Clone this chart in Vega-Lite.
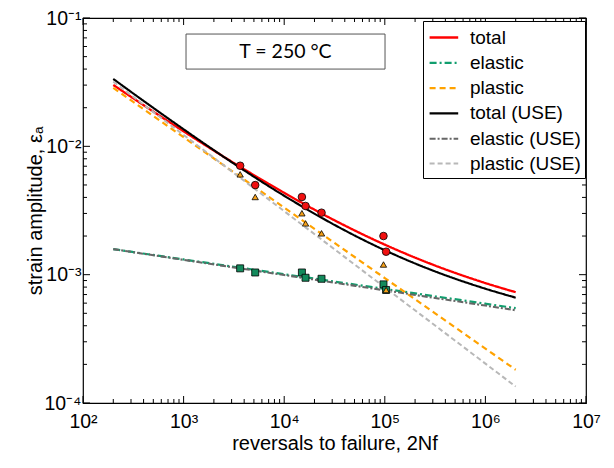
{
  "$schema": "https://vega.github.io/schema/vega-lite/v6.json",
  "width": 503,
  "height": 385,
  "autosize": {"type": "none"},
  "padding": {"left": 83, "top": 18, "right": 28, "bottom": 65},
  "background": "white",
  "config": {
    "view": {"stroke": "black", "strokeWidth": 1.2},
    "font": "Liberation Sans",
    "axis": {
      "labelFont": "Liberation Sans",
      "titleFont": "Liberation Sans",
      "labelFontSize": 19.5,
      "titleFontSize": 20,
      "titleFontWeight": "normal",
      "domain": false,
      "labelColor": "black",
      "titleColor": "black",
      "grid": false
    },
    "legend": {
      "labelFont": "Liberation Sans",
      "labelFontSize": 19,
      "labelColor": "black"
    }
  },
  "datasets": {
    "curves": [
      {"N": 200, "strain": 0.03009, "series": "total"},
      {"N": 316, "strain": 0.02367, "series": "total"},
      {"N": 1000, "strain": 0.01309, "series": "total"},
      {"N": 3162, "strain": 0.00741, "series": "total"},
      {"N": 10000, "strain": 0.00434, "series": "total"},
      {"N": 31623, "strain": 0.002652, "series": "total"},
      {"N": 100000, "strain": 0.001714, "series": "total"},
      {"N": 316228, "strain": 0.001178, "series": "total"},
      {"N": 1000000, "strain": 0.00086, "series": "total"},
      {"N": 2000000, "strain": 0.00073, "series": "total"},
      {"N": 200, "strain": 0.001581, "series": "elastic"},
      {"N": 316, "strain": 0.0015, "series": "elastic"},
      {"N": 1000, "strain": 0.001314, "series": "elastic"},
      {"N": 3162, "strain": 0.001151, "series": "elastic"},
      {"N": 10000, "strain": 0.001008, "series": "elastic"},
      {"N": 31623, "strain": 0.000883, "series": "elastic"},
      {"N": 100000, "strain": 0.000774, "series": "elastic"},
      {"N": 316228, "strain": 0.000678, "series": "elastic"},
      {"N": 1000000, "strain": 0.000594, "series": "elastic"},
      {"N": 2000000, "strain": 0.000548, "series": "elastic"},
      {"N": 200, "strain": 0.02851, "series": "plastic"},
      {"N": 316, "strain": 0.02217, "series": "plastic"},
      {"N": 1000, "strain": 0.01178, "series": "plastic"},
      {"N": 3162, "strain": 0.00626, "series": "plastic"},
      {"N": 10000, "strain": 0.00333, "series": "plastic"},
      {"N": 31623, "strain": 0.001769, "series": "plastic"},
      {"N": 100000, "strain": 0.00094, "series": "plastic"},
      {"N": 316228, "strain": 0.0004996, "series": "plastic"},
      {"N": 1000000, "strain": 0.0002656, "series": "plastic"},
      {"N": 2000000, "strain": 0.0001816, "series": "plastic"},
      {"N": 200, "strain": 0.0335, "series": "total (USE)"},
      {"N": 316, "strain": 0.02581, "series": "total (USE)"},
      {"N": 1000, "strain": 0.01358, "series": "total (USE)"},
      {"N": 3162, "strain": 0.00733, "series": "total (USE)"},
      {"N": 10000, "strain": 0.004118, "series": "total (USE)"},
      {"N": 31623, "strain": 0.002443, "series": "total (USE)"},
      {"N": 100000, "strain": 0.00155, "series": "total (USE)"},
      {"N": 316228, "strain": 0.00106, "series": "total (USE)"},
      {"N": 1000000, "strain": 0.000777, "series": "total (USE)"},
      {"N": 2000000, "strain": 0.000662, "series": "total (USE)"},
      {"N": 200, "strain": 0.001581, "series": "elastic (USE)"},
      {"N": 316, "strain": 0.001497, "series": "elastic (USE)"},
      {"N": 1000, "strain": 0.001305, "series": "elastic (USE)"},
      {"N": 3162, "strain": 0.001138, "series": "elastic (USE)"},
      {"N": 10000, "strain": 0.000993, "series": "elastic (USE)"},
      {"N": 31623, "strain": 0.000866, "series": "elastic (USE)"},
      {"N": 100000, "strain": 0.000755, "series": "elastic (USE)"},
      {"N": 316228, "strain": 0.000658, "series": "elastic (USE)"},
      {"N": 1000000, "strain": 0.000574, "series": "elastic (USE)"},
      {"N": 2000000, "strain": 0.000528, "series": "elastic (USE)"},
      {"N": 200, "strain": 0.03192, "series": "plastic (USE)"},
      {"N": 316, "strain": 0.02431, "series": "plastic (USE)"},
      {"N": 1000, "strain": 0.01227, "series": "plastic (USE)"},
      {"N": 3162, "strain": 0.00619, "series": "plastic (USE)"},
      {"N": 10000, "strain": 0.003125, "series": "plastic (USE)"},
      {"N": 31623, "strain": 0.001577, "series": "plastic (USE)"},
      {"N": 100000, "strain": 0.000795, "series": "plastic (USE)"},
      {"N": 316228, "strain": 0.0004016, "series": "plastic (USE)"},
      {"N": 1000000, "strain": 0.0002027, "series": "plastic (USE)"},
      {"N": 2000000, "strain": 0.0001343, "series": "plastic (USE)"}
    ],
    "points": [
      {"N": 3650, "strain": 0.00706, "kind": "total"},
      {"N": 5150, "strain": 0.00499, "kind": "total"},
      {"N": 15000, "strain": 0.00403, "kind": "total"},
      {"N": 16300, "strain": 0.00343, "kind": "total"},
      {"N": 23500, "strain": 0.00304, "kind": "total"},
      {"N": 97000, "strain": 0.002, "kind": "total"},
      {"N": 103000, "strain": 0.00151, "kind": "total"},
      {"N": 3650, "strain": 0.00112, "kind": "elastic"},
      {"N": 5150, "strain": 0.00104, "kind": "elastic"},
      {"N": 15000, "strain": 0.00104, "kind": "elastic"},
      {"N": 16300, "strain": 0.000946, "kind": "elastic"},
      {"N": 23500, "strain": 0.000929, "kind": "elastic"},
      {"N": 97000, "strain": 0.00084, "kind": "elastic"},
      {"N": 103000, "strain": 0.00076, "kind": "elastic"},
      {"N": 3650, "strain": 0.00605, "kind": "plastic"},
      {"N": 5150, "strain": 0.00403, "kind": "plastic"},
      {"N": 15000, "strain": 0.00301, "kind": "plastic"},
      {"N": 16300, "strain": 0.00251, "kind": "plastic"},
      {"N": 23500, "strain": 0.0021, "kind": "plastic"},
      {"N": 97000, "strain": 0.0012, "kind": "plastic"},
      {"N": 103000, "strain": 0.000759, "kind": "plastic"}
    ],
    "box": [
      {"label": "T = 250 °C"}
    ],
    "xticks": [
      {"v": 100, "major": true}, {"v": 200, "major": false}, {"v": 300, "major": false}, {"v": 400, "major": false}, {"v": 500, "major": false}, {"v": 600, "major": false}, {"v": 700, "major": false}, {"v": 800, "major": false}, {"v": 900, "major": false},
      {"v": 1000, "major": true}, {"v": 2000, "major": false}, {"v": 3000, "major": false}, {"v": 4000, "major": false}, {"v": 5000, "major": false}, {"v": 6000, "major": false}, {"v": 7000, "major": false}, {"v": 8000, "major": false}, {"v": 9000, "major": false},
      {"v": 10000, "major": true}, {"v": 20000, "major": false}, {"v": 30000, "major": false}, {"v": 40000, "major": false}, {"v": 50000, "major": false}, {"v": 60000, "major": false}, {"v": 70000, "major": false}, {"v": 80000, "major": false}, {"v": 90000, "major": false},
      {"v": 100000, "major": true}, {"v": 200000, "major": false}, {"v": 300000, "major": false}, {"v": 400000, "major": false}, {"v": 500000, "major": false}, {"v": 600000, "major": false}, {"v": 700000, "major": false}, {"v": 800000, "major": false}, {"v": 900000, "major": false},
      {"v": 1000000, "major": true}, {"v": 2000000, "major": false}, {"v": 3000000, "major": false}, {"v": 4000000, "major": false}, {"v": 5000000, "major": false}, {"v": 6000000, "major": false}, {"v": 7000000, "major": false}, {"v": 8000000, "major": false}, {"v": 9000000, "major": false},
      {"v": 10000000, "major": true}
    ],
    "yticks": [
      {"v": 0.0001, "major": true}, {"v": 0.0002, "major": false}, {"v": 0.0003, "major": false}, {"v": 0.0004, "major": false}, {"v": 0.0005, "major": false}, {"v": 0.0006, "major": false}, {"v": 0.0007, "major": false}, {"v": 0.0008, "major": false}, {"v": 0.0009, "major": false},
      {"v": 0.001, "major": true}, {"v": 0.002, "major": false}, {"v": 0.003, "major": false}, {"v": 0.004, "major": false}, {"v": 0.005, "major": false}, {"v": 0.006, "major": false}, {"v": 0.007, "major": false}, {"v": 0.008, "major": false}, {"v": 0.009, "major": false},
      {"v": 0.01, "major": true}, {"v": 0.02, "major": false}, {"v": 0.03, "major": false}, {"v": 0.04, "major": false}, {"v": 0.05, "major": false}, {"v": 0.06, "major": false}, {"v": 0.07, "major": false}, {"v": 0.08, "major": false}, {"v": 0.09, "major": false},
      {"v": 0.1, "major": true}
    ]
  },
  "resolve": {"axis": {"x": "independent", "y": "independent"}},
  "layer": [
    {
      "data": {"name": "curves"},
      "mark": {"type": "line", "interpolate": "monotone"},
      "encoding": {
        "x": {
          "field": "N", "type": "quantitative",
          "scale": {"type": "log", "domain": [100, 10000000], "nice": false},
          "axis": {
            "orient": "bottom",
            "title": "reversals to failure, 2Nf",
            "titlePadding": 3,
            "values": [100, 1000, 10000, 100000, 1000000, 10000000],
            "labelExpr": "['10⁰','10¹','10²','10³','10⁴','10⁵','10⁶','10⁷'][round(log(datum.value)/LN10)]",
            "ticks": true,
            "tickSize": 0,
            "labelPadding": 9,
            "labelFlush": false,
            "labelOverlap": false
          }
        },
        "y": {
          "field": "strain", "type": "quantitative",
          "scale": {"type": "log", "domain": [0.0001, 0.1], "nice": false},
          "axis": {
            "orient": "left",
            "title": "strain amplitude, εₐ",
            "titlePadding": -2,
            "values": [0.0001, 0.001, 0.01, 0.1],
            "labelExpr": "['10⁰','10⁻¹','10⁻²','10⁻³','10⁻⁴'][-round(log(datum.value)/LN10)]",
            "ticks": true,
            "tickSize": 0,
            "labelPadding": 2,
            "labelFlush": false,
            "labelOverlap": false
          }
        },
        "color": {
          "field": "series", "type": "nominal",
          "scale": {"domain": ["total","elastic","plastic","total (USE)","elastic (USE)","plastic (USE)"],
                    "range": ["#ff0000","#119e6e","#ffa200","#000000","#666666","#b8b8b8"]},
          "legend": {
            "title": null, "orient": "none", "legendX": 340, "legendY": 3,
            "symbolType": "M-0.9,0H1.7", "symbolSize": 484, "symbolStrokeWidth": 2,
            "strokeColor": "black", "fillColor": "white", "padding": 4,
            "cornerRadius": 0, "rowPadding": 2.3, "labelOffset": 18
          }
        },
        "strokeDash": {
          "field": "series", "type": "nominal",
          "scale": {"domain": ["total","elastic","plastic","total (USE)","elastic (USE)","plastic (USE)"],
                    "range": [[1,0],[7,3,2,3],[6,4],[1,0],[6,2,2,2],[5,3]]},
          "legend": {"title": null}
        },
        "strokeWidth": {
          "field": "series", "type": "nominal",
          "scale": {"domain": ["total","elastic","plastic","total (USE)","elastic (USE)","plastic (USE)"],
                    "range": [2.3, 2, 2, 1.6, 1.3, 1.3]},
          "legend": {"title": null}
        }
      }
    },
    {
      "data": {"name": "points"},
      "mark": {"type": "point", "filled": true, "stroke": "black", "strokeWidth": 0.8, "opacity": 1},
      "encoding": {
        "x": {"field": "N", "type": "quantitative", "axis": null},
        "y": {"field": "strain", "type": "quantitative", "axis": null},
        "shape": {
          "field": "kind", "type": "nominal",
          "scale": {"domain": ["total","elastic","plastic"], "range": ["circle","square","triangle-up"]},
          "legend": null
        },
        "size": {
          "field": "kind", "type": "nominal",
          "scale": {"domain": ["total","elastic","plastic"], "range": [58, 40, 55]},
          "legend": null
        },
        "fill": {
          "field": "kind", "type": "nominal",
          "scale": {"domain": ["total","elastic","plastic"], "range": ["#f01010","#138a5c","#f5a01a"]},
          "legend": null
        }
      }
    },
    {
      "data": {"name": "box"},
      "mark": {"type": "rect", "fill": "white", "stroke": "#555555", "strokeWidth": 1},
      "encoding": {
        "x": {"datum": 1057, "type": "quantitative", "axis": null},
        "x2": {"datum": 100500},
        "y": {"datum": 0.075, "type": "quantitative", "axis": null},
        "y2": {"datum": 0.04}
      }
    },
    {
      "data": {"name": "box"},
      "mark": {"type": "text", "font": "Lato", "fontSize": 19.5, "color": "black", "align": "center", "baseline": "middle"},
      "encoding": {
        "text": {"field": "label", "type": "nominal"},
        "x": {"datum": 10300, "type": "quantitative", "axis": null},
        "y": {"datum": 0.0543, "type": "quantitative", "axis": null}
      }
    },
    {
      "data": {"name": "xticks"},
      "transform": [{"filter": "datum.major"}],
      "mark": {"type": "tick", "orient": "vertical", "size": 7, "thickness": 1, "color": "black", "opacity": 1, "yOffset": -3.5},
      "encoding": {
        "x": {"field": "v", "type": "quantitative", "axis": null},
        "y": {"datum": 0.0001, "type": "quantitative", "axis": null}
      }
    },
    {
      "data": {"name": "xticks"},
      "transform": [{"filter": "!datum.major"}],
      "mark": {"type": "tick", "orient": "vertical", "size": 4, "thickness": 1, "color": "black", "opacity": 1, "yOffset": -2},
      "encoding": {
        "x": {"field": "v", "type": "quantitative", "axis": null},
        "y": {"datum": 0.0001, "type": "quantitative", "axis": null}
      }
    },
    {
      "data": {"name": "xticks"},
      "transform": [{"filter": "datum.major"}],
      "mark": {"type": "tick", "orient": "vertical", "size": 7, "thickness": 1, "color": "black", "opacity": 1, "yOffset": 3.5},
      "encoding": {
        "x": {"field": "v", "type": "quantitative", "axis": null},
        "y": {"datum": 0.1, "type": "quantitative", "axis": null}
      }
    },
    {
      "data": {"name": "xticks"},
      "transform": [{"filter": "!datum.major"}],
      "mark": {"type": "tick", "orient": "vertical", "size": 4, "thickness": 1, "color": "black", "opacity": 1, "yOffset": 2},
      "encoding": {
        "x": {"field": "v", "type": "quantitative", "axis": null},
        "y": {"datum": 0.1, "type": "quantitative", "axis": null}
      }
    },
    {
      "data": {"name": "yticks"},
      "transform": [{"filter": "datum.major"}],
      "mark": {"type": "tick", "orient": "horizontal", "size": 7, "thickness": 1, "color": "black", "opacity": 1, "xOffset": 3.5},
      "encoding": {
        "y": {"field": "v", "type": "quantitative", "axis": null},
        "x": {"datum": 100, "type": "quantitative", "axis": null}
      }
    },
    {
      "data": {"name": "yticks"},
      "transform": [{"filter": "!datum.major"}],
      "mark": {"type": "tick", "orient": "horizontal", "size": 4, "thickness": 1, "color": "black", "opacity": 1, "xOffset": 2},
      "encoding": {
        "y": {"field": "v", "type": "quantitative", "axis": null},
        "x": {"datum": 100, "type": "quantitative", "axis": null}
      }
    },
    {
      "data": {"name": "yticks"},
      "transform": [{"filter": "datum.major"}],
      "mark": {"type": "tick", "orient": "horizontal", "size": 7, "thickness": 1, "color": "black", "opacity": 1, "xOffset": -3.5},
      "encoding": {
        "y": {"field": "v", "type": "quantitative", "axis": null},
        "x": {"datum": 10000000, "type": "quantitative", "axis": null}
      }
    },
    {
      "data": {"name": "yticks"},
      "transform": [{"filter": "!datum.major"}],
      "mark": {"type": "tick", "orient": "horizontal", "size": 4, "thickness": 1, "color": "black", "opacity": 1, "xOffset": -2},
      "encoding": {
        "y": {"field": "v", "type": "quantitative", "axis": null},
        "x": {"datum": 10000000, "type": "quantitative", "axis": null}
      }
    }
  ]
}
